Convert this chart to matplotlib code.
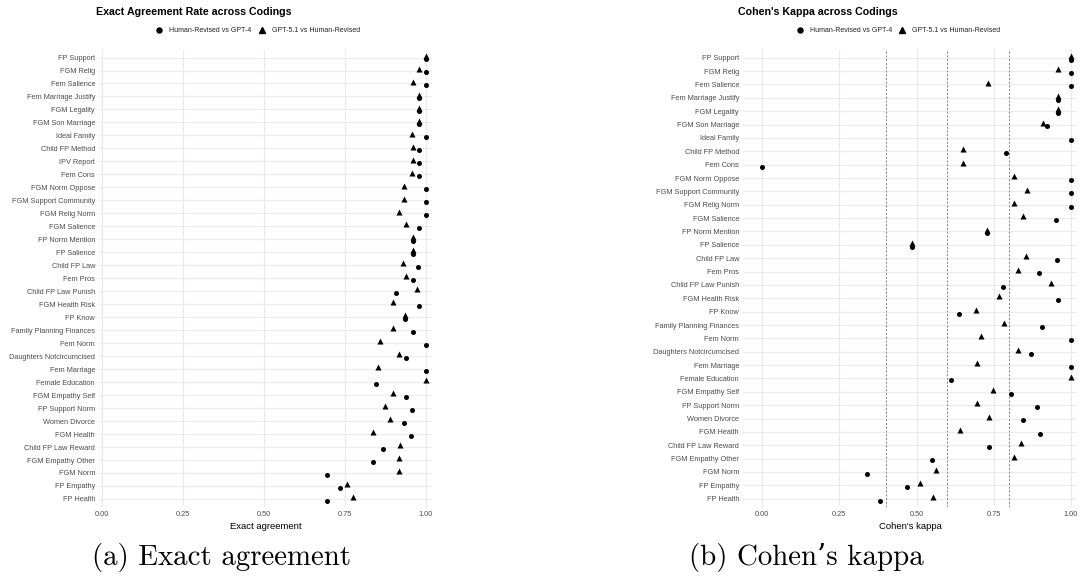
import numpy as np
import matplotlib
matplotlib.use("Agg")
import matplotlib.pyplot as plt

plt.rcParams["font.family"] = ["Liberation Sans", "DejaVu Sans"]

codings = [
    "FP Support", "FGM Relig", "Fem Salience", "Fem Marriage Justify", "FGM Legality",
    "FGM Son Marriage", "Ideal Family", "Child FP Method", "IPV Report", "Fem Cons",
    "FGM Norm Oppose", "FGM Support Community", "FGM Relig Norm", "FGM Salience",
    "FP Norm Mention", "FP Salience", "Child FP Law", "Fem Pros", "Child FP Law Punish",
    "FGM Health Risk", "FP Know", "Family Planning Finances", "Fem Norm",
    "Daughters Notcircumcised", "Fem Marriage", "Female Education", "FGM Empathy Self",
    "FP Support Norm", "Women Divorce", "FGM Health", "Child FP Law Reward",
    "FGM Empathy Other", "FGM Norm", "FP Empathy", "FP Health",
]

# exact agreement
agree_hr_gpt4 = [1.0, 1.0, 1.0, 0.978, 0.978, 0.978, 1.0, 0.978, 0.978, 0.977,
                 1.0, 1.0, 1.0, 0.979, 0.959, 0.959, 0.976, 0.959, 0.908,
                 0.979, 0.936, 0.959, 1.0, 0.937, 1.0, 0.845, 0.938,
                 0.958, 0.931, 0.954, 0.866, 0.836, 0.693, 0.734, 0.693]
agree_gpt51_hr = [1.0, 0.978, 0.959, 0.978, 0.978, 0.978, 0.956, 0.959, 0.959, 0.957,
                  0.933, 0.933, 0.918, 0.938, 0.959, 0.959, 0.930, 0.937, 0.971,
                  0.898, 0.936, 0.898, 0.857, 0.917, 0.851, 1.0, 0.898,
                  0.872, 0.889, 0.836, 0.920, 0.918, 0.918, 0.755, 0.776]

# Cohen's kappa (Ideal Family undefined for GPT-5.1)
kappa_hr_gpt4 = [1.0, 1.0, 1.0, 0.958, 0.958, 0.922, 1.0, 0.790, 0.0,
                 1.0, 1.0, 1.0, 0.950, 0.729, 0.485, 0.954, 0.896, 0.781,
                 0.957, 0.636, 0.907, 1.0, 0.871, 1.0, 0.613, 0.805,
                 0.889, 0.845, 0.901, 0.734, 0.549, 0.341, 0.468, 0.382]
kappa_gpt51_hr = [1.0, 0.958, 0.730, 0.958, 0.958, 0.909, np.nan, 0.649, 0.649,
                  0.815, 0.858, 0.815, 0.846, 0.729, 0.485, 0.854, 0.829, 0.935,
                  0.768, 0.694, 0.784, 0.710, 0.830, 0.697, 1.0, 0.748,
                  0.697, 0.736, 0.642, 0.839, 0.815, 0.563, 0.510, 0.555]
kappa_codings = [c for c in codings if c != "IPV Report"]

kappa_refs = [0.4, 0.6, 0.8]
xticks = [0.0, 0.25, 0.5, 0.75, 1.0]
xticklabels = ["0.00", "0.25", "0.50", "0.75", "1.00"]

W, H = 1080, 585
fig = plt.figure(figsize=(W / 100, H / 100), dpi=100)


def px_axes(x0, x1, y0, y1):
    return fig.add_axes([x0 / W, 1 - y1 / H, (x1 - x0) / W, (y1 - y0) / H])


def draw_panel(ax, labels, circ, tri, xlim, xlabel):
    n = len(labels)
    y = np.arange(n)
    ax.set_facecolor("white")
    for s in ax.spines.values():
        s.set_visible(False)
    ax.set_xlim(*xlim)
    ax.set_ylim(n - 1 + 0.62, -0.58)
    ax.set_yticks(y)
    ax.set_yticklabels(labels)
    ax.set_xticks(xticks)
    ax.set_xticklabels(xticklabels)
    ax.tick_params(length=0, labelsize=5.3, labelcolor="#4d4d4d", pad=2.8)
    ax.grid(True, color="#ebebeb", lw=0.9, zorder=0)
    ax.set_axisbelow(True)
    ax.scatter(circ, y + 0.14, marker="o", s=13, color="black", zorder=3, lw=0)
    ax.scatter(tri, y - 0.14, marker="^", s=19, color="black", zorder=3, lw=0)
    ax.set_xlabel(xlabel, fontsize=6.8, color="black", labelpad=3)


ax1 = px_axes(99, 432, 50, 507)
draw_panel(ax1, codings, agree_hr_gpt4, agree_gpt51_hr, (-0.0093, 1.0185), "Exact agreement")

ax2 = px_axes(743, 1077, 50, 507)
for r in kappa_refs:
    ax2.axvline(r, color="#707070", lw=0.6, ls=(0, (2.5, 2)), zorder=1)
draw_panel(ax2, kappa_codings, kappa_hr_gpt4, kappa_gpt51_hr, (-0.0615, 1.0194), "Cohen's kappa")

# titles and legends
fig.text(96 / W, 1 - 12 / H, "Exact Agreement Rate across Codings", fontsize=7.7,
         fontweight="bold", ha="left", va="center")
fig.text(738 / W, 1 - 12 / H, "Cohen's Kappa across Codings", fontsize=7.7,
         fontweight="bold", ha="left", va="center")


def legend_at(xc, xt):
    yy = 1 - 30 / H
    fig.lines.append(plt.Line2D([xc / W], [yy], marker="o", ms=3.6, color="black",
                                ls="none", transform=fig.transFigure))
    fig.text((xc + 10) / W, yy, "Human-Revised vs GPT-4", fontsize=5.0, va="center",
             color="#222222")
    fig.lines.append(plt.Line2D([xt / W], [yy], marker="^", ms=4.4, color="black",
                                ls="none", transform=fig.transFigure))
    fig.text((xt + 10) / W, yy, "GPT-5.1 vs Human-Revised", fontsize=5.0, va="center",
             color="#222222")


legend_at(159, 262)
legend_at(800, 902)

# subfigure captions
fig.text(221 / W, 1 - 558 / H, "(a) Exact agreement", fontsize=20.8, family="cmr10",
         ha="center", va="center")
fig.text(806 / W, 1 - 558 / H, "(b) Cohen\u2019s kappa", fontsize=20.8,
         family=["cmr10", "DejaVu Serif"], ha="center", va="center")

fig.savefig("out.png", dpi=100)
